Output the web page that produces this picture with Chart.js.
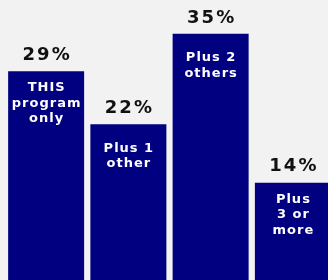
<!DOCTYPE html>
<html>
<head>
<meta charset="utf-8">
<script src="https://cdn.jsdelivr.net/npm/chart.js@4"></script>
<style>
  html, body { margin: 0; padding: 0; background: #f2f2f2; overflow: hidden; }
  #wrap { width: 328px; height: 280px; overflow: hidden; }
</style>
</head>
<body>
<div id="wrap"><canvas id="myChart" width="334" height="280"></canvas></div>
<script>
// lines of the text inside each bar
var categories = [
  ["THIS", "program", "only"],
  ["Plus 1", "other"],
  ["Plus 2", "others"],
  ["Plus", "3 or", "more"]
];
var values = [29.6, 22.1, 34.9, 13.8];
var valueLabels = ["29%", "22%", "35%", "14%"];

var barLabels = {
  id: "barLabels",
  afterDatasetsDraw: function (chart) {
    var ctx = chart.ctx;
    var bars = chart.getDatasetMeta(0).data;
    ctx.save();
    ctx.textAlign = "center";
    ctx.textBaseline = "middle";
    bars.forEach(function (bar, i) {
      // percent above the bar
      ctx.fillStyle = "#111111";
      ctx.font = "bold 18px 'DejaVu Sans'";
      ctx.letterSpacing = "2px";
      ctx.fillText(valueLabels[i], bar.x + 1, bar.y - 16);

      // category text inside the bar
      var lines = categories[i];
      var lh = 15.5;
      var start = bar.y + 32 - (lines.length - 1) * lh / 2;
      ctx.fillStyle = "#ffffff";
      ctx.font = "bold 13px 'DejaVu Sans'";
      ctx.letterSpacing = "1px";
      lines.forEach(function (t, j) {
        ctx.fillText(t, bar.x + 0.5, start + j * lh);
      });
    });
    ctx.restore();
  }
};

new Chart("myChart", {
  type: "bar",
  data: {
    labels: categories.map(function (c) { return c.join(" "); }),
    datasets: [
      {
        data: values,
        backgroundColor: "#000080",
        borderWidth: 0,
        barPercentage: 0.924,
        categoryPercentage: 1
      }
    ]
  },
  options: {
    responsive: false,
    animation: false,
    layout: { padding: { left: 5, right: 0, top: 0, bottom: 0 } },
    plugins: {
      legend: { display: false },
      tooltip: { enabled: false }
    },
    scales: {
      x: { display: false },
      y: { display: false, min: 0, max: 39.7 }
    }
  },
  plugins: [barLabels]
});
</script>
</body>
</html>
